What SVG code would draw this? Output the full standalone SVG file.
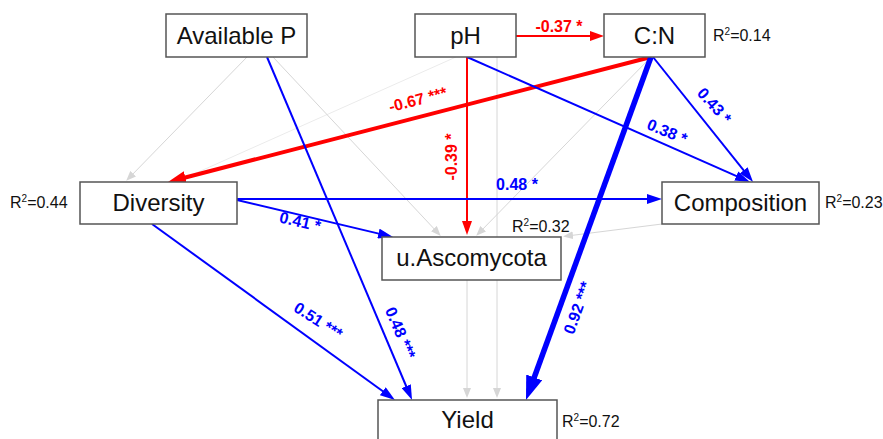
<svg xmlns="http://www.w3.org/2000/svg" width="883" height="439" viewBox="0 0 883 439">
<style>
.box{fill:#fff;stroke:#555;stroke-width:1.5}
.nl{font-family:"Liberation Sans",Arial,sans-serif;font-size:24px;fill:#111;text-anchor:middle}
.r2{font-family:"Liberation Sans",Arial,sans-serif;font-size:16px;fill:#111}
.r2 tspan.s{font-size:10px}
.el{font-family:"Liberation Sans",Arial,sans-serif;font-size:16px;font-weight:bold;text-anchor:middle}
.blue{fill:#0000ff}
.red{fill:#ff0000}
.g{stroke:#d6d6d6;stroke-width:1;fill:none;marker-end:url(#ag)}
.gf{stroke:#ebebeb;stroke-width:1;fill:none}
.b{stroke:#0000ff;stroke-width:2;fill:none;marker-end:url(#ab)}
.r{stroke:#ff0000;stroke-width:2;fill:none;marker-end:url(#ar)}
</style>
<defs>
<marker id="ag" markerUnits="userSpaceOnUse" markerWidth="11" markerHeight="8" refX="6" refY="4" orient="auto"><path d="M0,0 L10,4 L0,8 z" fill="#d6d6d6"/></marker>
<marker id="ab" markerUnits="userSpaceOnUse" markerWidth="15" markerHeight="10" refX="9" refY="5" orient="auto"><path d="M0,0 L15,5 L0,10 z" fill="#0000ff"/></marker>
<marker id="ar" markerUnits="userSpaceOnUse" markerWidth="14" markerHeight="10" refX="8" refY="5" orient="auto"><path d="M0,0 L14,5 L0,10 z" fill="#ff0000"/></marker>
<marker id="arT" markerUnits="userSpaceOnUse" markerWidth="18" markerHeight="13" refX="9" refY="6.5" orient="auto"><path d="M0,0 L18,6.5 L0,13 z" fill="#ff0000"/></marker>
<marker id="abT" markerUnits="userSpaceOnUse" markerWidth="24" markerHeight="17" refX="12" refY="8.5" orient="auto"><path d="M0,0 L24,8.5 L0,17 z" fill="#0000ff"/></marker>
</defs>

<g id="connectors">
  <line class="gf" x1="456" y1="57" x2="176" y2="182"/>
  <line class="g" x1="247" y1="57" x2="129" y2="178"/>
  <line class="g" x1="273" y1="57" x2="438" y2="233"/>
  <line class="g" x1="497" y1="57" x2="497" y2="394"/>
  <line class="g" x1="651" y1="57" x2="479" y2="233"/>
  <line class="g" x1="662" y1="224" x2="567" y2="236"/>
  <line class="g" x1="467" y1="280" x2="467" y2="394"/>
  <line class="r" x1="516" y1="36" x2="598" y2="36"/>
  <line class="r" x1="467" y1="57" x2="467" y2="229"/>
  <line stroke="#ff0000" stroke-width="4" marker-end="url(#arT)" x1="651" y1="57" x2="176.7" y2="179.7"/>
  <line class="b" x1="467" y1="57" x2="744.5" y2="179.6"/>
  <line class="b" x1="653" y1="57" x2="749.3" y2="177.3"/>
  <line stroke="#0000ff" stroke-width="5.5" marker-end="url(#abT)" x1="651" y1="57" x2="530.1" y2="388.7"/>
  <line class="b" x1="267" y1="57" x2="409.7" y2="394.5"/>
  <line class="b" x1="237" y1="199" x2="656" y2="199"/>
  <line class="b" x1="237" y1="200" x2="387.2" y2="235.6"/>
  <line class="b" x1="152" y1="224" x2="390.1" y2="396.5"/>
  <text class="el red" x="559" y="32">-0.37 *</text>
  <text class="el red" transform="translate(418,100) rotate(-14.5)" y="5">-0.67 ***</text>
  <text class="el red" transform="translate(452,157) rotate(-90)" y="5">-0.39 *</text>
  <text class="el blue" transform="translate(667,132) rotate(23)" y="5">0.38 *</text>
  <text class="el blue" transform="translate(714,106) rotate(48)" y="5">0.43 *</text>
  <text class="el blue" transform="translate(578,308) rotate(-70)" y="5">0.92 ***</text>
  <text class="el blue" transform="translate(400,333) rotate(67)" y="5">0.48 ***</text>
  <text class="el blue" transform="translate(318,321) rotate(33)" y="5">0.51 ***</text>
  <text class="el blue" transform="translate(300,222) rotate(13)" y="5">0.41 *</text>
  <text class="el blue" x="517" y="190">0.48 *</text>
</g>

<g id="node-availableP">
  <rect class="box" x="166" y="14" width="141" height="43"/>
  <text class="nl" x="236.5" y="44">Available P</text>
</g>
<g id="node-pH">
  <rect class="box" x="415" y="14" width="101" height="43"/>
  <text class="nl" x="465.5" y="44">pH</text>
</g>
<g id="node-CN">
  <rect class="box" x="604" y="14" width="101" height="43"/>
  <text class="nl" x="654.5" y="44">C:N</text>
  <text class="r2" x="713" y="41">R<tspan class="s" dy="-6">2</tspan><tspan dy="6">=0.14</tspan></text>
</g>
<g id="node-diversity">
  <rect class="box" x="80" y="182" width="157" height="42"/>
  <text class="nl" x="158.5" y="211">Diversity</text>
  <text class="r2" x="10" y="208">R<tspan class="s" dy="-6">2</tspan><tspan dy="6">=0.44</tspan></text>
</g>
<g id="node-composition">
  <rect class="box" x="662" y="182" width="157" height="42"/>
  <text class="nl" x="740.5" y="211">Composition</text>
  <text class="r2" x="825" y="208">R<tspan class="s" dy="-6">2</tspan><tspan dy="6">=0.23</tspan></text>
</g>
<g id="node-uAscomycota">
  <rect class="box" x="382" y="237" width="179" height="43"/>
  <text class="nl" x="471.5" y="266">u.Ascomycota</text>
  <text class="r2" x="512" y="232">R<tspan class="s" dy="-6">2</tspan><tspan dy="6">=0.32</tspan></text>
</g>
<g id="node-yield">
  <rect class="box" x="378" y="400" width="179" height="50"/>
  <text class="nl" x="467.5" y="428">Yield</text>
  <text class="r2" x="562" y="427">R<tspan class="s" dy="-6">2</tspan><tspan dy="6">=0.72</tspan></text>
</g>
</svg>
